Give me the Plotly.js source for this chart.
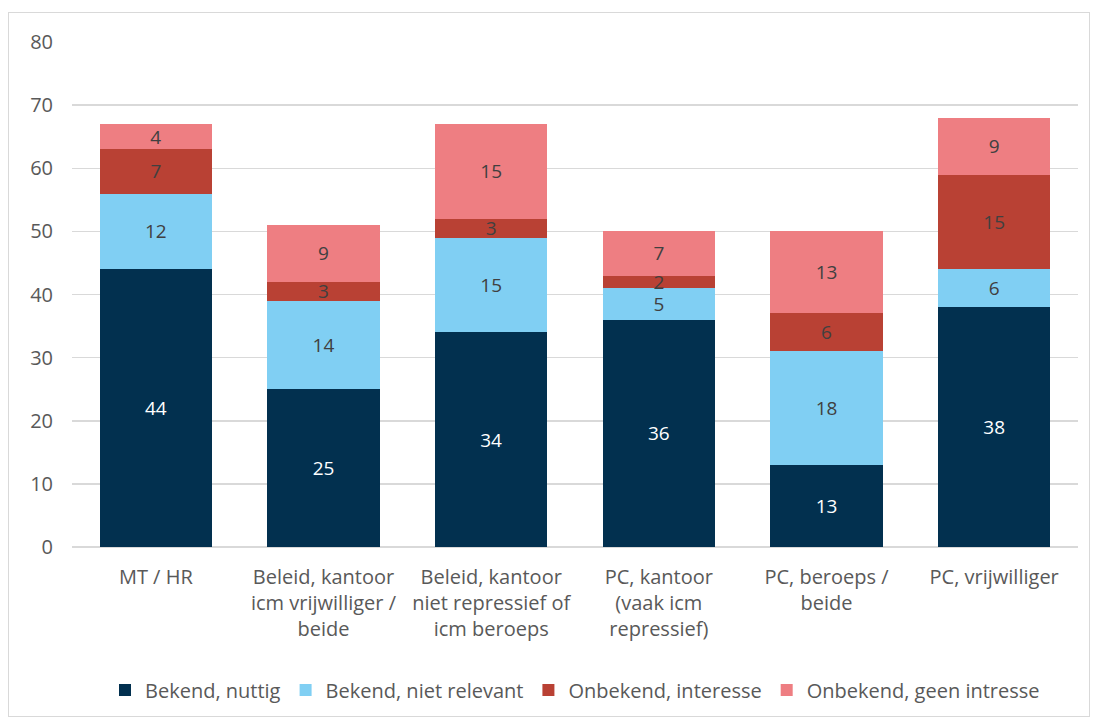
<!DOCTYPE html>
<html>
<head>
<meta charset="utf-8">
<script src="https://cdn.plot.ly/plotly-3.0.1.min.js"></script>
<style>
  body { margin: 0; background: #fff; }
  #chart { position: absolute; left: 8px; top: 12px; width: 1082px; height: 705px; border: 1px solid #d9d9d9; box-sizing: border-box; }
</style>
</head>
<body>
<div id="chart"></div>
<script>
var categories = [
  'MT / HR',
  'Beleid, kantoor<br>icm vrijwilliger /<br>beide',
  'Beleid, kantoor<br>niet repressief of<br>icm beroeps',
  'PC, kantoor<br>(vaak icm<br>repressief)',
  'PC, beroeps /<br>beide',
  'PC, vrijwilliger'
];
var bekendNuttig = [44, 25, 34, 36, 13, 38];
var bekendNietRelevant = [12, 14, 15, 5, 18, 6];
var onbekendInteresse = [7, 3, 3, 2, 6, 15];
var onbekendGeenIntresse = [4, 9, 15, 7, 13, 9];

var seriesNames = ['Bekend, nuttig', 'Bekend, niet relevant', 'Onbekend, interesse', 'Onbekend, geen intresse'];
var seriesValues = [bekendNuttig, bekendNietRelevant, onbekendInteresse, onbekendGeenIntresse];
var colors = ['#02304f', '#80cff3', '#b94134', '#ee7e82'];
var textColors = ['#ffffff', '#404040', '#404040', '#404040'];

var font = 'Open Sans, Liberation Sans, sans-serif';

var data = seriesNames.map(function (name, i) {
  return {
    type: 'bar',
    name: name,
    x: categories,
    y: seriesValues[i],
    marker: { color: colors[i] },
    text: seriesValues[i].map(String),
    textposition: 'inside',
    insidetextanchor: 'middle',
    constraintext: 'none',
    textangle: 0,
    insidetextfont: { color: textColors[i], size: 19, family: font },
    hoverinfo: 'name+y'
  };
});

var layout = {
  width: 1080,
  height: 703,
  barmode: 'stack',
  bargap: 0.33,
  paper_bgcolor: '#fff',
  plot_bgcolor: '#fff',
  font: { family: font, color: '#595959', size: 20 },
  margin: { l: 63, r: 11, t: 29, b: 169 },
  showlegend: true,
  legend: {
    orientation: 'h',
    x: 0.5, xanchor: 'center',
    yref: 'container',
    y: 0.037, yanchor: 'middle',
    font: { size: 20, color: '#595959' },
    traceorder: 'normal',
    itemwidth: 30
  },
  xaxis: {
    type: 'category',
    showline: false,
    ticks: '',
    ticklabelstandoff: 16,
    tickfont: { size: 20, color: '#595959' },
    tickangle: 0
  },
  yaxis: {
    range: [0, 80],
    dtick: 10,
    showgrid: true,
    gridcolor: '#d9d9d9',
    gridwidth: 1.5,
    zeroline: true,
    zerolinecolor: '#d9d9d9',
    zerolinewidth: 1.5,
    showline: false,
    ticks: '',
    ticklabelstandoff: 18,
    tickfont: { size: 20, color: '#595959' }
  }
};

Plotly.newPlot('chart', data, layout, { displayModeBar: false, staticPlot: true });
</script>
</body>
</html>
